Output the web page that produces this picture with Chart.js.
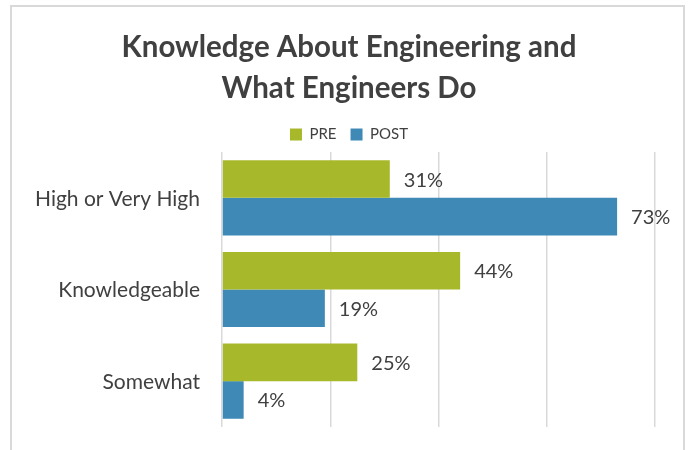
<!DOCTYPE html>
<html>
<head>
<meta charset="utf-8">
<script src="https://cdn.jsdelivr.net/npm/chart.js@4"></script>
<style>
  html, body { margin: 0; padding: 0; width: 688px; height: 450px; overflow: hidden; background: #fff; }
  #frame { position: absolute; left: 10px; top: 5px; width: 671px; height: 480px; border: 2px solid #d9d9d9; }
  #wrap { position: absolute; left: 0; top: 0; width: 688px; height: 450px; }
</style>
</head>
<body>
<div id="frame"></div>
<div id="wrap"><canvas id="chart" width="688" height="450"></canvas></div>
<script>
const categories = ["High or Very High", "Knowledgeable", "Somewhat"];
const preValues = [31, 44, 25];
const postValues = [73, 19, 4];
const seriesNames = ["PRE", "POST"];

const FONT = "Lato, 'Open Sans', sans-serif";
const TEXT = "#404040";

// value labels right of each bar, and category labels left of the plot
const barLabels = {
  id: "barLabels",
  afterDraw(chart) {
    const ctx = chart.ctx;
    const yScale = chart.scales.y;
    ctx.save();
    ctx.fillStyle = TEXT;
    ctx.textBaseline = "middle";

    ctx.font = "20px " + FONT;
    ctx.textAlign = "left";
    chart.data.datasets.forEach(function (ds, i) {
      chart.getDatasetMeta(i).data.forEach(function (bar, j) {
        ctx.fillText(ds.data[j] + "%", bar.x + 14, bar.y + 1);
      });
    });

    ctx.font = "21px " + FONT;
    ctx.textAlign = "right";
    categories.forEach(function (c, j) {
      ctx.fillText(c, chart.chartArea.left - 22, yScale.getPixelForValue(j) + 1);
    });
    ctx.restore();
  }
};

new Chart(document.getElementById("chart"), {
  type: "bar",
  data: {
    labels: categories,
    datasets: [
      { label: seriesNames[0], data: preValues, backgroundColor: "#a8b82b" },
      { label: seriesNames[1], data: postValues, backgroundColor: "#3e89b5" }
    ]
  },
  options: {
    indexAxis: "y",
    responsive: false,
    animation: false,
    layout: { padding: { left: 43, right: 33, top: 0, bottom: 23 } },
    datasets: { bar: { categoryPercentage: 0.82, barPercentage: 1.0 } },
    plugins: {
      title: {
        display: true,
        text: ["Knowledge About Engineering and", "What Engineers Do"],
        color: TEXT,
        font: { family: FONT, size: 29.5, weight: "bold", lineHeight: 1.39 },
        padding: { top: 27, bottom: 4 }
      },
      legend: {
        position: "top",
        labels: {
          color: TEXT,
          font: { family: FONT, size: 15 },
          boxWidth: 12,
          boxHeight: 12,
          padding: 14
        }
      },
      tooltip: { enabled: false }
    },
    scales: {
      x: {
        min: 0,
        max: 80,
        ticks: { display: false, stepSize: 20 },
        grid: { color: "#d9d9d9", lineWidth: 1.5, drawTicks: false },
        border: { display: false }
      },
      y: {
        ticks: { display: false },
        grid: { display: false, drawTicks: false },
        border: { display: false },
        afterFit: function (scale) { scale.width = 179; }
      }
    }
  },
  plugins: [barLabels]
});
</script>
</body>
</html>
